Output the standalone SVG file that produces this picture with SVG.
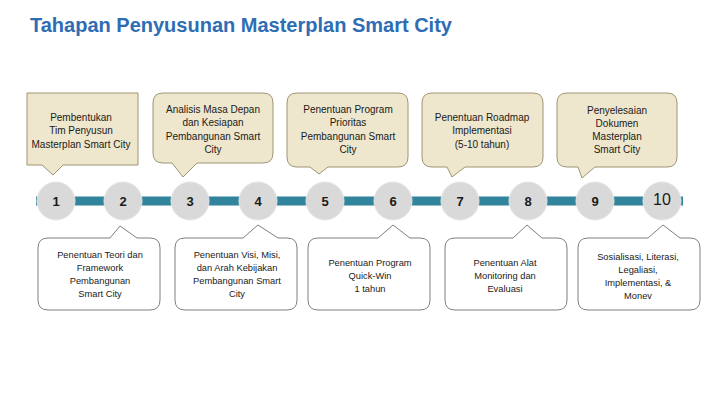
<svg xmlns="http://www.w3.org/2000/svg" width="720" height="405" viewBox="0 0 720 405">
<style>
.title{font-family:"Liberation Sans",Arial,sans-serif;font-weight:bold;font-size:20px;fill:#2E6DB4}
.top{fill:#EEE7CD;stroke:#9E9474;stroke-width:1}
.bot{fill:#FFFFFF;stroke:#7F7F7F;stroke-width:1}
.t{font-family:"Liberation Sans",Arial,sans-serif;font-size:9.3px;fill:#1a1a1a;text-anchor:middle}
.tt{font-family:"Liberation Sans",Arial,sans-serif;font-size:10px;fill:#1a1a1a;text-anchor:middle}
.c{fill:#D9D9D9;stroke:#E6E6E6;stroke-width:1}
.n{font-family:"Liberation Sans",Arial,sans-serif;font-weight:bold;font-size:13px;fill:#1a1a1a;text-anchor:middle}
</style>
<rect width="720" height="405" fill="#FFFFFF"/>
<text class="title" x="30" y="32">Tahapan Penyusunan Masterplan Smart City</text>

<g id="connectors">
<line x1="36" y1="201" x2="683" y2="201" stroke="#31849B" stroke-width="9"/>
</g>

<g id="call1">
<path class="top" d="M27,93 H138 V165 H63 L53,175 L42,165 H27 Z"/>
<text class="tt" x="81" y="121">Pembentukan</text>
<text class="tt" x="81" y="134">Tim Penyusun</text>
<text class="tt" x="81" y="148">Masterplan Smart City</text>
</g>
<g id="call3">
<path class="top" d="M163,93 H263 Q273,93 273,103 V153 Q273,163 263,163 H197 L183,177 L172,163 H163 Q153,163 153,153 V103 Q153,93 163,93 Z"/>
<text class="tt" x="213" y="113">Analisis Masa Depan</text>
<text class="tt" x="213" y="126">dan Kesiapan</text>
<text class="tt" x="213" y="140">Pembangunan Smart</text>
<text class="tt" x="213" y="153">City</text>
</g>
<g id="call5">
<path class="top" d="M297,93 H398 Q408,93 408,103 V157 Q408,167 398,167 H328 L319,174 L310,167 H297 Q287,167 287,157 V103 Q287,93 297,93 Z"/>
<text class="tt" x="348" y="113">Penentuan Program</text>
<text class="tt" x="348" y="126">Prioritas</text>
<text class="tt" x="348" y="140">Pembangunan Smart</text>
<text class="tt" x="348" y="153">City</text>
</g>
<g id="call7">
<path class="top" d="M432,93 H533 Q543,93 543,103 V157 Q543,167 533,167 H465 L452,177 L447,167 H432 Q422,167 422,157 V103 Q422,93 432,93 Z"/>
<text class="tt" x="482" y="121">Penentuan Roadmap</text>
<text class="tt" x="482" y="134">Implementasi</text>
<text class="tt" x="482" y="148">(5-10 tahun)</text>
</g>
<g id="call9">
<path class="top" d="M567,93 H667 Q677,93 677,103 V157 Q677,167 667,167 H595 L582,178 L578,167 H567 Q557,167 557,157 V103 Q557,93 567,93 Z"/>
<text class="tt" x="617" y="114">Penyelesaian</text>
<text class="tt" x="617" y="127">Dokumen</text>
<text class="tt" x="617" y="140">Masterplan</text>
<text class="tt" x="617" y="153">Smart City</text>
</g>

<g id="call2">
<path class="bot" d="M48,238 H110 L120,226 L137,238 H150 Q160,238 160,248 V300 Q160,310 150,310 H48 Q38,310 38,300 V248 Q38,238 48,238 Z"/>
<text class="t" x="100" y="258">Penentuan Teori dan</text>
<text class="t" x="100" y="271">Framework</text>
<text class="t" x="100" y="284">Pembangunan</text>
<text class="t" x="100" y="297">Smart City</text>
</g>
<g id="call4">
<path class="bot" d="M185,238 H243 L258,225 L278,238 H287 Q297,238 297,248 V300 Q297,310 287,310 H185 Q175,310 175,300 V248 Q175,238 185,238 Z"/>
<text class="t" x="237" y="258">Penentuan Visi, Misi,</text>
<text class="t" x="237" y="271">dan Arah Kebijakan</text>
<text class="t" x="237" y="284">Pembangunan Smart</text>
<text class="t" x="237" y="297">City</text>
</g>
<g id="call6">
<path class="bot" d="M318,238 H378 L393,225 L410,238 H420 Q430,238 430,248 V300 Q430,310 420,310 H318 Q308,310 308,300 V248 Q308,238 318,238 Z"/>
<text class="t" x="370" y="266">Penentuan Program</text>
<text class="t" x="370" y="279">Quick-Win</text>
<text class="t" x="370" y="292">1 tahun</text>
</g>
<g id="call8">
<path class="bot" d="M455,238 H513 L527,225 L542,238 H557 Q567,238 567,248 V300 Q567,310 557,310 H455 Q445,310 445,300 V248 Q445,238 455,238 Z"/>
<text class="t" x="505" y="266">Penentuan Alat</text>
<text class="t" x="505" y="279">Monitoring dan</text>
<text class="t" x="505" y="292">Evaluasi</text>
</g>
<g id="call10">
<path class="bot" d="M588,238 H648 L663,225 L680,238 H690 Q700,238 700,248 V300 Q700,310 690,310 H588 Q578,310 578,300 V248 Q578,238 588,238 Z"/>
<text class="t" x="638" y="260">Sosialisasi, Literasi,</text>
<text class="t" x="638" y="273">Legaliasi,</text>
<text class="t" x="638" y="286">Implementasi, &amp;</text>
<text class="t" x="638" y="299">Monev</text>
</g>

<g id="step1"><circle class="c" cx="56" cy="201" r="19"/><text class="n" x="56" y="206">1</text></g>
<g id="step2"><circle class="c" cx="123" cy="201" r="19"/><text class="n" x="123" y="206">2</text></g>
<g id="step3"><circle class="c" cx="190" cy="201" r="19"/><text class="n" x="190" y="206">3</text></g>
<g id="step4"><circle class="c" cx="258" cy="201" r="19"/><text class="n" x="258" y="206">4</text></g>
<g id="step5"><circle class="c" cx="325" cy="201" r="19"/><text class="n" x="325" y="206">5</text></g>
<g id="step6"><circle class="c" cx="393" cy="201" r="19"/><text class="n" x="393" y="206">6</text></g>
<g id="step7"><circle class="c" cx="460" cy="201" r="19"/><text class="n" x="460" y="206">7</text></g>
<g id="step8"><circle class="c" cx="528" cy="201" r="19"/><text class="n" x="528" y="206">8</text></g>
<g id="step9"><circle class="c" cx="595" cy="201" r="19"/><text class="n" x="595" y="206">9</text></g>
<g id="step10"><circle class="c" cx="662" cy="201" r="19"/><text class="n" x="662" y="205" style="font-weight:normal;font-size:16px">10</text></g>
</svg>
